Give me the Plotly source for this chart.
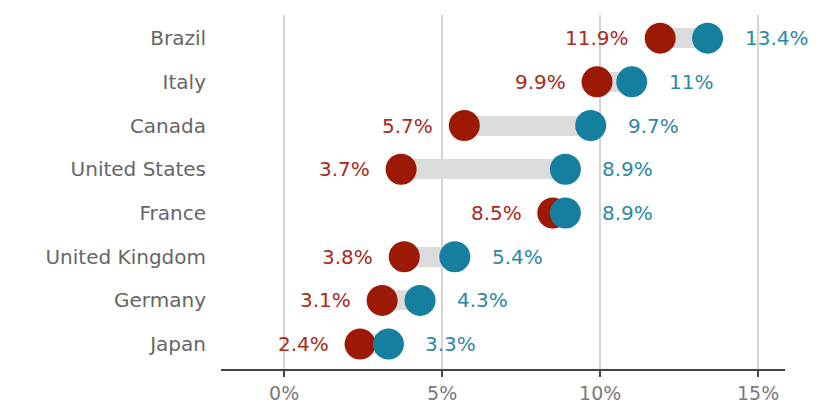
import plotly.graph_objects as go

countries = ["Brazil", "Italy", "Canada", "United States", "France",
             "United Kingdom", "Germany", "Japan"]
before = [11.9, 9.9, 5.7, 3.7, 8.5, 3.8, 3.1, 2.4]
after = [13.4, 11.0, 9.7, 8.9, 8.9, 5.4, 4.3, 3.3]
before_labels = ["11.9%", "9.9%", "5.7%", "3.7%", "8.5%", "3.8%", "3.1%", "2.4%"]
after_labels = ["13.4%", "11%", "9.7%", "8.9%", "8.9%", "5.4%", "4.3%", "3.3%"]
x_ticks = [0, 5, 10, 15]
x_tick_labels = ["0%", "5%", "10%", "15%"]

RED = "#9c1906"
RED_TXT = "#a82a1c"
BLUE = "#157f9f"
BLUE_TXT = "#2b89a6"
FONT = "DejaVu Sans"

n = len(countries)
ypos = [n - 1 - i for i in range(n)]

fig = go.Figure()
fig.add_trace(go.Bar(
    y=ypos, x=[a - b for a, b in zip(after, before)], base=before,
    orientation="h", width=0.46, marker=dict(color="#dcdcdc", line=dict(width=0)),
    hoverinfo="skip", showlegend=False))
fig.add_trace(go.Scatter(
    x=before, y=ypos, mode="markers",
    marker=dict(size=31, color=RED, line=dict(width=0)), showlegend=False))
fig.add_trace(go.Scatter(
    x=after, y=ypos, mode="markers",
    marker=dict(size=31, color=BLUE, line=dict(width=0)), showlegend=False))

annotations = []
for yv, b, a, bl, al in zip(ypos, before, after, before_labels, after_labels):
    annotations.append(dict(x=b, y=yv, xref="x", yref="y", text=bl, showarrow=False,
                            xanchor="right", xshift=-29,
                            font=dict(family=FONT, size=20, color=RED_TXT)))
    annotations.append(dict(x=a, y=yv, xref="x", yref="y", text=al, showarrow=False,
                            xanchor="left", xshift=35,
                            font=dict(family=FONT, size=20, color=BLUE_TXT)))

fig.update_layout(
    width=822, height=397,
    margin=dict(l=213, r=45, t=7, b=36),
    paper_bgcolor="white", plot_bgcolor="white",
    annotations=annotations,
    bargap=0,
    xaxis=dict(range=[-2, 15.85], tickvals=x_ticks, ticktext=x_tick_labels,
               showgrid=True, gridcolor="#d4d4d4", gridwidth=1.5,
               zeroline=False, showline=True, linecolor="#444444", linewidth=2,
               ticks="outside", ticklen=6, tickcolor="#444444", tickwidth=1.5,
               ticklabelstandoff=0, automargin=False,
               tickfont=dict(family=FONT, size=19, color="#7a7a7a"),
               fixedrange=True),
    yaxis=dict(range=[-0.57, 7.53], tickvals=ypos, ticktext=countries,
               showgrid=False, zeroline=False, showline=False, ticks="",
               ticklabelstandoff=14, automargin=False,
               tickfont=dict(family=FONT, size=20, color="#666666"),
               fixedrange=True),
)

fig.write_html("out.html")
